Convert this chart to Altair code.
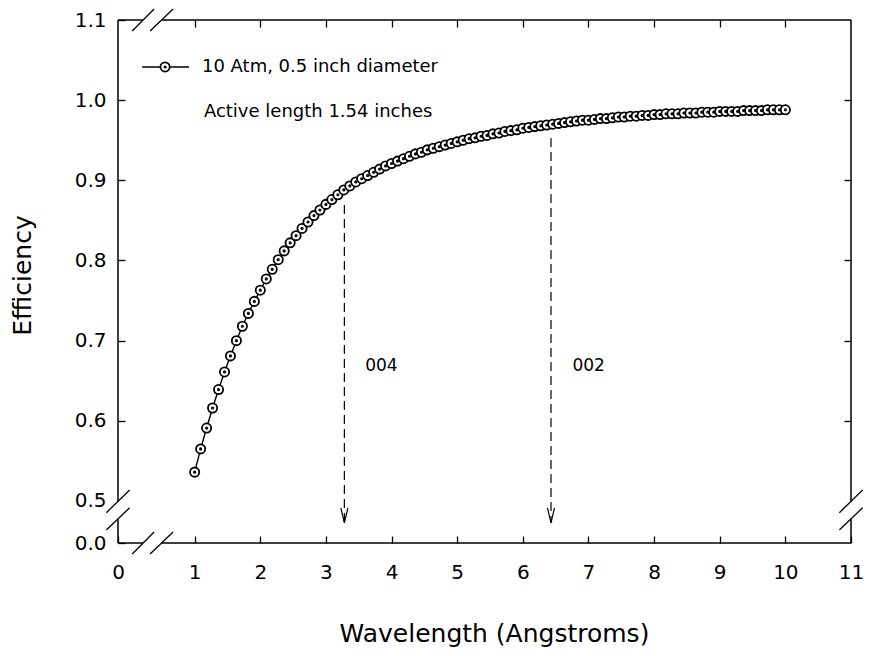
import altair as alt
import pandas as pd

# ---- data ----
wavelength = [
    1.000, 1.091, 1.182, 1.273, 1.364, 1.455, 1.545, 1.636, 1.727, 1.818, 1.909,
    2.000, 2.091, 2.182, 2.273, 2.364, 2.455, 2.545, 2.636, 2.727, 2.818, 2.909,
    3.000, 3.091, 3.182, 3.273, 3.364, 3.455, 3.545, 3.636, 3.727, 3.818, 3.909,
    4.000, 4.091, 4.182, 4.273, 4.364, 4.455, 4.545, 4.636, 4.727, 4.818, 4.909,
    5.000, 5.091, 5.182, 5.273, 5.364, 5.455, 5.545, 5.636, 5.727, 5.818, 5.909,
    6.000, 6.091, 6.182, 6.273, 6.364, 6.455, 6.545, 6.636, 6.727, 6.818, 6.909,
    7.000, 7.091, 7.182, 7.273, 7.364, 7.455, 7.545, 7.636, 7.727, 7.818, 7.909,
    8.000, 8.091, 8.182, 8.273, 8.364, 8.455, 8.545, 8.636, 8.727, 8.818, 8.909,
    9.000, 9.091, 9.182, 9.273, 9.364, 9.455, 9.545, 9.636, 9.727, 9.818, 9.909,
    10.000,
]
efficiency = [
    0.536, 0.565, 0.591, 0.616, 0.639, 0.661, 0.681, 0.700, 0.718, 0.734, 0.749,
    0.763, 0.777, 0.789, 0.801, 0.812, 0.822, 0.831, 0.840, 0.848, 0.856, 0.863,
    0.870, 0.876, 0.882, 0.888, 0.893, 0.898, 0.902, 0.906, 0.910, 0.914, 0.918,
    0.921, 0.924, 0.927, 0.930, 0.933, 0.935, 0.938, 0.940, 0.942, 0.944, 0.946,
    0.948, 0.950, 0.952, 0.953, 0.955, 0.956, 0.958, 0.959, 0.961, 0.962, 0.963,
    0.965, 0.966, 0.967, 0.968, 0.969, 0.970, 0.971, 0.972, 0.973, 0.974, 0.975,
    0.975, 0.976, 0.977, 0.977, 0.978, 0.979, 0.979, 0.980, 0.980, 0.981, 0.981,
    0.982, 0.982, 0.983, 0.983, 0.983, 0.984, 0.984, 0.984, 0.985, 0.985, 0.985,
    0.986, 0.986, 0.986, 0.986, 0.987, 0.987, 0.987, 0.987, 0.988, 0.988, 0.988,
    0.988,
]

series_label = "10 Atm, 0.5 inch diameter"
note_label = "Active length 1.54 inches"
x_tick_values = [1, 2, 3, 4, 5, 6, 7, 8, 9, 10, 11]
y_tick_values = [0.5, 0.6, 0.7, 0.8, 0.9, 1.0, 1.1]

# axis ends (broken axes: left end labelled "0", bottom end labelled "0.0")
XMIN, XMAX = -0.168, 11.0
YMIN, YMAX = 0.4476, 1.1

# reflection markers (dashed arrows)
arrow_x = [3.281, 6.429]
arrow_top = [0.8692, 0.9528]
arrow_tip = [0.4726, 0.4726]
arrow_text = ["004", "002"]
arrow_text_x = [3.599, 6.756]
arrow_text_y = [0.6684, 0.6684]

# ---- tables ----
df = pd.DataFrame({"wavelength": wavelength, "efficiency": efficiency})

gx1, gx2 = 0.2117, 0.5008      # gap in horizontal frame lines
gy1, gy2 = 0.4774, 0.4993      # gap in vertical frame lines
frame = pd.DataFrame([
    (XMIN, YMIN, gx1, YMIN), (gx2, YMIN, XMAX, YMIN),
    (XMIN, YMAX, gx1, YMAX), (gx2, YMAX, XMAX, YMAX),
    (XMIN, YMIN, XMIN, gy1), (XMIN, gy2, XMIN, YMAX),
    (XMAX, YMIN, XMAX, gy1), (XMAX, gy2, XMAX, YMAX),
], columns=["x", "y", "x2", "y2"])

dyb = 0.0137
dxb = 0.1775
breaks = pd.DataFrame(
    [(0.0486, yy - dyb, 0.382, yy + dyb) for yy in (YMIN, YMAX)]
    + [(0.321, yy - dyb, 0.671, yy + dyb) for yy in (YMIN, YMAX)]
    + [(xx - dxb, 0.4854, xx + dxb, 0.5137) for xx in (XMIN, XMAX)]
    + [(xx - dxb, 0.4638, xx + dxb, 0.4916) for xx in (XMIN, XMAX)],
    columns=["x", "y", "x2", "y2"],
)

arrows = pd.DataFrame({"x": arrow_x, "y": arrow_top, "y2": arrow_tip})
labels = pd.DataFrame({"x": arrow_text_x, "y": arrow_text_y, "t": arrow_text})

legend_line = pd.DataFrame({"x": [0.2003], "x2": [0.9135], "y": [1.0414]})
legend_pt = pd.DataFrame({"x": [0.5493], "y": [1.0414]})
legend_txt = pd.DataFrame({"x": [1.111, 1.141], "y": [1.0414, 0.9853],
                           "t": [series_label, note_label]})

# ---- scales & shapes ----
xs = alt.Scale(domain=[XMIN, XMAX], nice=False, zero=False)
ys = alt.Scale(domain=[YMIN, YMAX], nice=False, zero=False)
RING = ("M1,0A1,1,0,1,1,-1,0A1,1,0,1,1,1,0Z"
        "M0.15,0A0.15,0.15,0,1,1,-0.15,0A0.15,0.15,0,1,1,0.15,0Z")
ARROW = "M-0.47,-2L0,0L0.47,-2"
FONT = "DejaVu Sans"

bottom_axis = alt.Axis(
    orient="bottom", values=[XMIN] + x_tick_values,
    labelExpr="datum.value < 0 ? '0' : format(datum.value, 'd')",
    offset=-7, tickSize=7, domain=False, grid=False, labelPadding=19,
    title="Wavelength (Angstroms)", titlePadding=39, titleX=376,
)
left_axis = alt.Axis(
    orient="left", values=[YMIN] + y_tick_values,
    labelExpr="datum.value < 0.49 ? '0.0' : format(datum.value, '.1f')",
    offset=-7, tickSize=7, domain=False, grid=False, labelPadding=12,
    title="Efficiency", titlePadding=39, titleY=255,
    tickOpacity={"condition": {"test": "abs(datum.value - 0.5) < 0.01", "value": 0}, "value": 1},
)
top_axis = alt.Axis(orient="top", values=x_tick_values[:-1], labels=False,
                    offset=-7, tickSize=7, domain=False, grid=False, title=None)
right_axis = alt.Axis(orient="right", values=[0.6, 0.7, 0.8, 0.9, 1.0], labels=False,
                      offset=-7, tickSize=7, domain=False, grid=False, title=None)

frame_layer = alt.Chart(frame).mark_rule(color="black", strokeWidth=1.5).encode(
    x=alt.X("x:Q", scale=xs, axis=top_axis),
    y=alt.Y("y:Q", scale=ys, axis=right_axis),
    x2="x2:Q", y2="y2:Q",
)
break_layer = alt.Chart(breaks).mark_rule(color="black", strokeWidth=1.3).encode(
    x=alt.X("x:Q", scale=xs, axis=None),
    y=alt.Y("y:Q", scale=ys, axis=None),
    x2="x2:Q", y2="y2:Q",
)
line_layer = alt.Chart(df).mark_line(color="black", strokeWidth=1.4).encode(
    x=alt.X("wavelength:Q", scale=xs, axis=None),
    y=alt.Y("efficiency:Q", scale=ys, axis=None),
)
point_layer = alt.Chart(df).mark_point(
    shape=RING, size=85, filled=True, fill="white", stroke="black",
    strokeWidth=1.8, opacity=1,
).encode(
    x=alt.X("wavelength:Q", scale=xs, axis=bottom_axis),
    y=alt.Y("efficiency:Q", scale=ys, axis=left_axis),
)
arrow_line = alt.Chart(arrows).mark_rule(color="black", strokeWidth=1.2, strokeDash=[9, 5]).encode(
    x=alt.X("x:Q", scale=xs, axis=None),
    y=alt.Y("y:Q", scale=ys, axis=None),
    y2="y2:Q",
)
arrow_head = alt.Chart(arrows).mark_point(
    shape=ARROW, size=225, filled=False, stroke="black", strokeWidth=1.2, opacity=1,
).encode(
    x=alt.X("x:Q", scale=xs, axis=None),
    y=alt.Y("y2:Q", scale=ys, axis=None),
)
arrow_label = alt.Chart(labels).mark_text(
    font=FONT, fontSize=17, align="left", baseline="middle", color="black",
).encode(
    x=alt.X("x:Q", scale=xs, axis=None),
    y=alt.Y("y:Q", scale=ys, axis=None),
    text="t:N",
)
leg_line = alt.Chart(legend_line).mark_rule(color="black", strokeWidth=1.4).encode(
    x=alt.X("x:Q", scale=xs, axis=None), x2="x2:Q",
    y=alt.Y("y:Q", scale=ys, axis=None),
)
leg_pt = alt.Chart(legend_pt).mark_point(
    shape=RING, size=85, filled=True, fill="white", stroke="black",
    strokeWidth=1.8, opacity=1,
).encode(
    x=alt.X("x:Q", scale=xs, axis=None),
    y=alt.Y("y:Q", scale=ys, axis=None),
)
leg_txt = alt.Chart(legend_txt).mark_text(
    font=FONT, fontSize=18, align="left", baseline="middle", color="black",
).encode(
    x=alt.X("x:Q", scale=xs, axis=None),
    y=alt.Y("y:Q", scale=ys, axis=None),
    text="t:N",
)

chart = alt.layer(
    frame_layer, break_layer, line_layer, point_layer,
    arrow_line, arrow_head, arrow_label, leg_line, leg_pt, leg_txt,
).properties(
    width=733, height=523,
    autosize=alt.AutoSizeParams(type="none"),
    padding={"left": 110, "top": 12, "right": 12, "bottom": 105},
    background="white",
).configure_view(
    strokeWidth=0,
).configure_axis(
    labelFont=FONT, labelFontSize=20, labelColor="black",
    titleFont=FONT, titleFontSize=25, titleFontWeight="normal", titleColor="black",
    tickColor="black", tickWidth=1.3, labelFlush=False, labelOverlap=False,
)

chart.save("out.html", embed_options={"renderer": "svg", "actions": False})
